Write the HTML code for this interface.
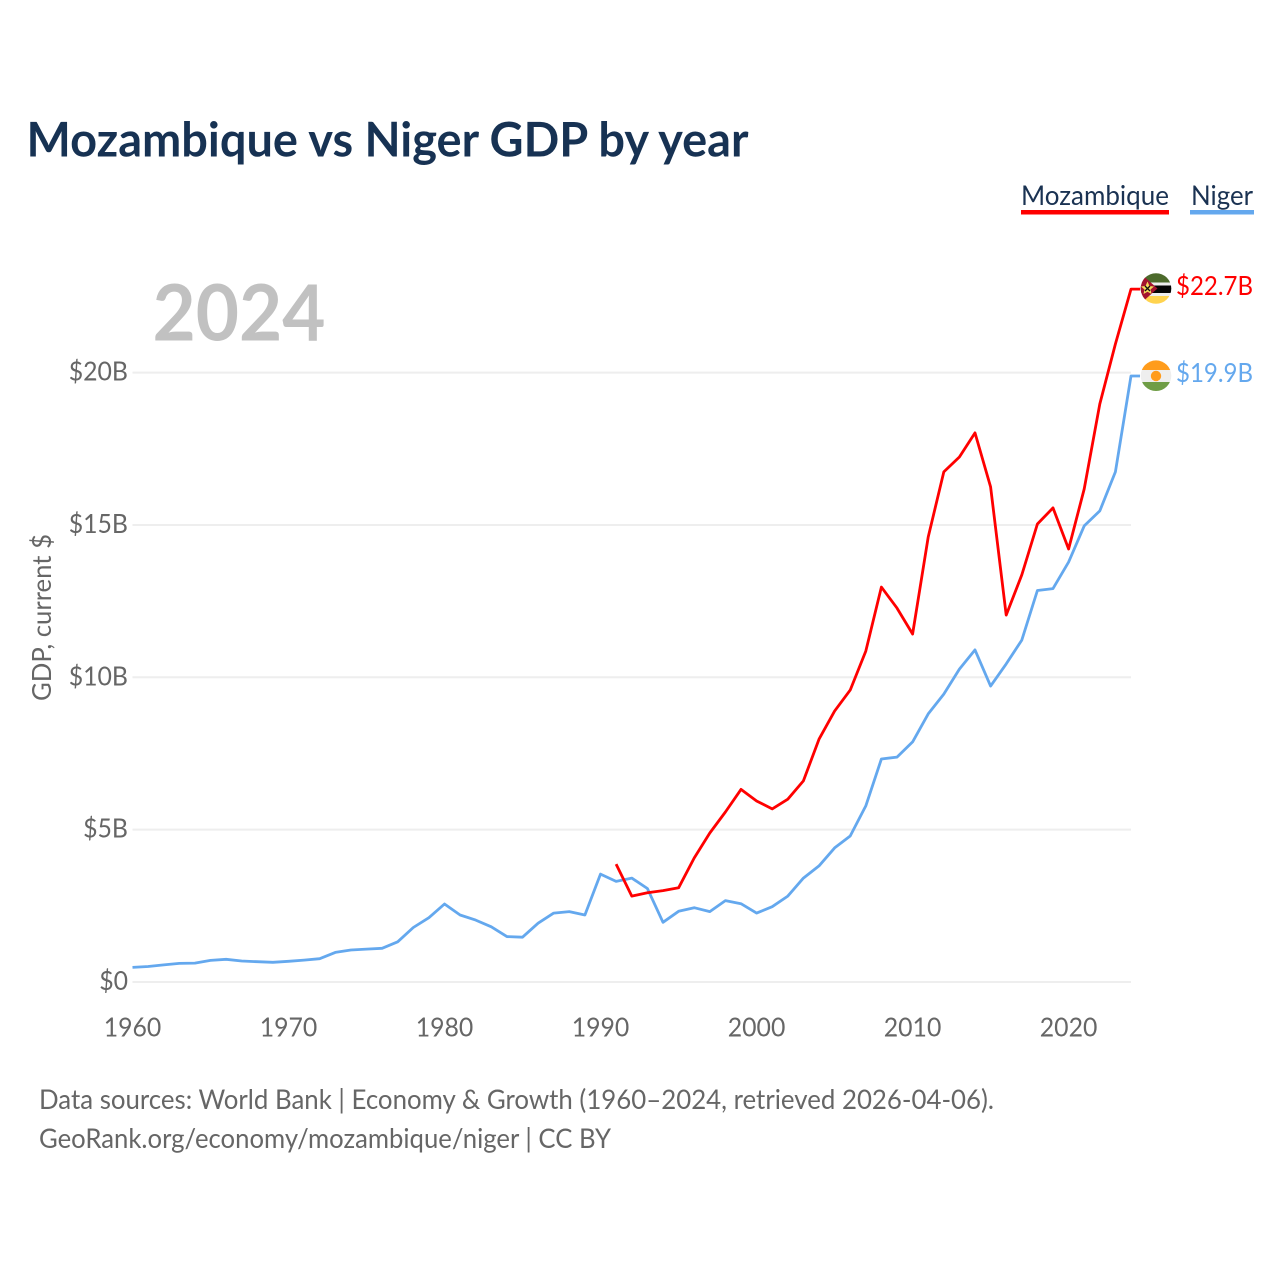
<!DOCTYPE html>
<html lang="en">
<head>
<meta charset="utf-8">
<title>Mozambique vs Niger GDP by year</title>
<style>
html,body{margin:0;padding:0;background:#fff;}
svg{display:block;}
text{font-family:"Lato","Carlito","Liberation Sans",sans-serif;}
</style>
</head>
<body>
<svg id="chart" xmlns="http://www.w3.org/2000/svg" width="1280" height="1280" viewBox="0 0 1280 1280">
  <rect x="0" y="0" width="1280" height="1280" fill="#fff"/>
  <text x="26.5" y="156.5" font-size="48" font-weight="700" fill="#173253" textLength="722" lengthAdjust="spacingAndGlyphs">Mozambique vs Niger GDP by year</text>
  <g>
    <g>
      <text x="1021" y="205" font-size="27" fill="#1a3252" textLength="148" lengthAdjust="spacingAndGlyphs">Mozambique</text>
      <rect x="1021" y="210" width="148" height="4.5" fill="#ff0000"/>
    </g>
    <g>
      <text x="1191" y="205" font-size="27" fill="#1a3252" textLength="62" lengthAdjust="spacingAndGlyphs">Niger</text>
      <rect x="1190" y="210" width="64" height="4.5" fill="#64a8ee"/>
    </g>
  </g>
  <text x="152.5" y="340.5" font-size="78" font-weight="700" fill="#c1c1c1" textLength="173" lengthAdjust="spacingAndGlyphs">2024</text>
  <text transform="translate(51,701) rotate(-90)" x="0" y="0" font-size="26" fill="#666" textLength="167" lengthAdjust="spacingAndGlyphs">GDP, current $</text>
  <g id="grid"></g>
  <g id="ytickgroup"></g>
  <g id="xtickgroup"></g>
  <g id="series"></g>

  <defs>
    <clipPath id="clip-moz"><circle cx="1156" cy="288.5" r="15.3"/></clipPath>
    <clipPath id="clip-nig"><circle cx="1156" cy="375.7" r="15.3"/></clipPath>
  </defs>
  <g clip-path="url(#clip-moz)">
    <rect x="1140" y="273" width="32" height="9.5" fill="#4c6a2b"/>
    <rect x="1140" y="282.5" width="32" height="3" fill="#eeeeee"/>
    <rect x="1140" y="285.5" width="32" height="7.5" fill="#050505"/>
    <rect x="1140" y="293" width="32" height="3" fill="#eeeeee"/>
    <rect x="1140" y="296" width="32" height="9" fill="#ffd34f"/>
    <polygon points="1140,273 1157.5,288.5 1140,304" fill="#a3132f"/>
    <polygon points="1147.5,281.5 1149.5,286 1154,286.5 1150.5,289.5 1151.5,294 1147.5,291.8 1143.5,294 1144.5,289.5 1141,286.5 1145.5,286" fill="#f4d85a"/>
    <path d="M1145 286 L1150 291 M1150 286 L1145 291" stroke="#111" stroke-width="1.3" fill="none"/>
  </g>
  <g clip-path="url(#clip-nig)">
    <rect x="1140" y="360" width="32" height="10" fill="#ff9c1c"/>
    <rect x="1140" y="370" width="32" height="12" fill="#eeeeee"/>
    <rect x="1140" y="382" width="32" height="10" fill="#6f9d46"/>
    <circle cx="1156" cy="376" r="5.2" fill="#ff9c1c"/>
  </g>
  <text id="value-moz" x="1176" y="295" font-size="26.5" fill="#ff0000" textLength="77" lengthAdjust="spacingAndGlyphs"></text>
  <text id="value-nig" x="1176" y="382" font-size="26.5" fill="#64a8ee" textLength="77" lengthAdjust="spacingAndGlyphs"></text>

  <text x="39" y="1109" font-size="27" fill="#666" textLength="955" lengthAdjust="spacingAndGlyphs">Data sources: World Bank | Economy &amp; Growth (1960–2024, retrieved 2026-04-06).</text>
  <text x="39" y="1148" font-size="27" fill="#666" textLength="572" lengthAdjust="spacingAndGlyphs">GeoRank.org/economy/mozambique/niger | CC BY</text>
</svg>
<script>
var nigerStartYear = 1960;
var nigerValues = [0.48,0.51,0.56,0.61,0.62,0.71,0.745,0.69,0.665,0.645,0.68,0.72,0.765,0.97,1.05,1.08,1.105,1.32,1.79,2.11,2.56,2.2,2.03,1.81,1.49,1.47,1.93,2.26,2.31,2.2,3.54,3.3,3.41,3.07,1.96,2.32,2.44,2.31,2.67,2.57,2.26,2.47,2.82,3.41,3.81,4.4,4.79,5.78,7.32,7.38,7.88,8.8,9.45,10.27,10.9,9.71,10.44,11.22,12.85,12.91,13.78,14.97,15.46,16.74,19.89];
var mozambiqueStartYear = 1991;
var mozambiqueValues = [3.87,2.82,2.93,3.0,3.09,4.07,4.89,5.58,6.32,5.94,5.68,6.0,6.6,7.97,8.89,9.58,10.86,12.96,12.27,11.42,14.6,16.74,17.23,18.02,16.25,12.04,13.36,15.03,15.56,14.21,16.18,18.97,20.94,22.74];
var yTickValues = [0,5,10,15,20];
var yTickLabels = ["$0","$5B","$10B","$15B","$20B"];
var xTickValues = [1960,1970,1980,1990,2000,2010,2020];
var xTickLabels = ["1960","1970","1980","1990","2000","2010","2020"];
var mozambiqueLabel = "$22.7B";
var nigerLabel = "$19.9B";

var NS = "http://www.w3.org/2000/svg";
function xScale(year){ return 132.5 + (year - 1960) * (1131 - 132.5) / 64; }
function yScale(v){ return 982 - v * 30.47; }

var grid = document.getElementById("grid");
var ytickgroup = document.getElementById("ytickgroup");
var xtickgroup = document.getElementById("xtickgroup");
var seriesGroup = document.getElementById("series");

function condense(label){
  label.setAttribute("lengthAdjust", "spacingAndGlyphs");
  label.setAttribute("textLength", (label.getComputedTextLength() * 0.955).toFixed(1));
}

yTickValues.forEach(function(v, i){
  var line = document.createElementNS(NS, "line");
  
  
  line.setAttribute("x1", xScale(1960));
  line.setAttribute("x2", xScale(2024));
  line.setAttribute("y1", yScale(v));
  line.setAttribute("y2", yScale(v));
  line.setAttribute("stroke", "#eeeeee");
  line.setAttribute("stroke-width", "2");
  grid.appendChild(line);

  var label = document.createElementNS(NS, "text");
  
  
  label.setAttribute("x", 128);
  label.setAttribute("y", yScale(v) + 8);
  label.setAttribute("text-anchor", "end");
  label.setAttribute("font-size", "26");
  label.setAttribute("fill", "#666");
  label.textContent = yTickLabels[i];
  ytickgroup.appendChild(label);
  condense(label);
});

xTickValues.forEach(function(year, i){
  var label = document.createElementNS(NS, "text");
  
  
  label.setAttribute("x", xScale(year));
  label.setAttribute("y", 1036.5);
  label.setAttribute("text-anchor", "middle");
  label.setAttribute("font-size", "26");
  label.setAttribute("fill", "#666");
  label.textContent = xTickLabels[i];
  xtickgroup.appendChild(label);
  condense(label);
});

function buildPoints(startYear, values){
  var pts = values.map(function(v, i){
    return xScale(startYear + i).toFixed(1) + "," + yScale(v).toFixed(1);
  });
  pts.push((xScale(startYear + values.length - 1) + 9).toFixed(1) + "," + yScale(values[values.length - 1]).toFixed(1));
  return pts.join(" ");
}

var nigerLine = document.createElementNS(NS, "polyline");


nigerLine.setAttribute("points", buildPoints(nigerStartYear, nigerValues));
nigerLine.setAttribute("fill", "none");
nigerLine.setAttribute("stroke", "#64a8ee");
nigerLine.setAttribute("stroke-width", "2.8");
nigerLine.setAttribute("stroke-linejoin", "round");
seriesGroup.appendChild(nigerLine);

var mozLine = document.createElementNS(NS, "polyline");


mozLine.setAttribute("points", buildPoints(mozambiqueStartYear, mozambiqueValues));
mozLine.setAttribute("fill", "none");
mozLine.setAttribute("stroke", "#ff0000");
mozLine.setAttribute("stroke-width", "2.8");
mozLine.setAttribute("stroke-linejoin", "round");
seriesGroup.appendChild(mozLine);

document.getElementById("value-moz").textContent = mozambiqueLabel;
document.getElementById("value-nig").textContent = nigerLabel;
</script>
</body>
</html>
